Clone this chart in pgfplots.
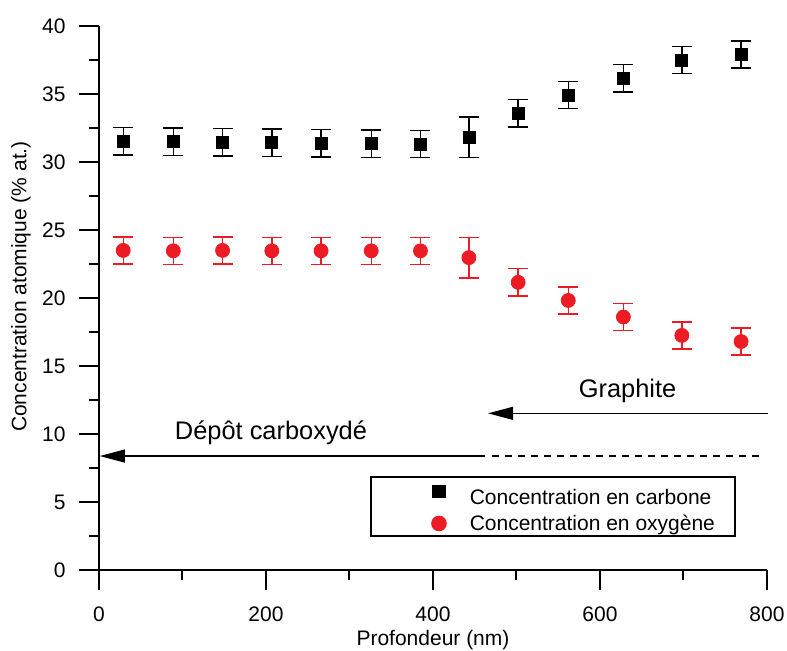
\documentclass[border=0pt]{standalone}
\usepackage{fontspec}
\setmainfont{Liberation Sans}
\usepackage{pgfplots}
\usepackage{pgfplotstable}
\pgfplotsset{compat=1.18}
\usetikzlibrary{arrows.meta}
\definecolor{ored}{RGB}{237,28,36}

\pgfplotstableread{
x y e
29 31.52 1.0
89 31.50 1.0
148 31.45 1.0
207 31.42 1.0
266 31.38 1.0
326 31.35 1.0
385 31.33 1.0
443 31.82 1.5
502 33.58 1.0
562 34.93 1.0
628 36.15 1.0
698 37.50 1.0
769 37.90 1.0
}\carbon

\pgfplotstableread{
x y e
29 23.50 1.0
89 23.47 1.0
148 23.50 1.0
207 23.47 1.0
266 23.47 1.0
326 23.47 1.0
385 23.47 1.0
443 22.97 1.5
502 21.15 1.0
562 19.82 1.0
628 18.60 1.0
698 17.25 1.0
769 16.80 1.0
}\oxygen

\begin{document}
\begin{tikzpicture}
\begin{axis}[
  scale only axis,
  width=334pt, height=272pt,
  xmin=0, xmax=800, ymin=0, ymax=40,
  axis lines*=left,
  axis line style={line width=1pt},
  xtick={0,200,...,800},
  ytick={0,5,...,40},
  minor x tick num=1,
  minor y tick num=1,
  tick align=outside,
  major tick length=10pt,
  minor tick length=5pt,
  every tick/.style={black, line width=1pt},
  tick label style={font=\fontsize{10.5}{12.6}\selectfont},
  /pgf/number format/assume math mode=true,
  xticklabel style={anchor=north, inner sep=0pt, yshift=-8pt},
  yticklabel style={anchor=east, inner sep=0pt, xshift=-6.5pt},
  xlabel={Profondeur (nm)},
  ylabel={Concentration atomique (\% at.)},
  label style={font=\fontsize{10.5}{12.6}\selectfont},
  xlabel style={at={(axis description cs:0.5,-0.129)}, anchor=center},
  ylabel style={at={(axis description cs:-0.117,0.521)}, anchor=center, rotate=0},
  clip=false,
  legend style={
    at={(axis cs:325,6.9)}, anchor=north west,
    draw=black, line width=0.8pt,
    font=\fontsize{10.5}{12.6}\selectfont,
    inner xsep=10pt, inner ysep=0pt,
    nodes={inner xsep=0pt, inner ysep=0pt, text depth=2.5pt},
    row sep=2.5pt,
  },
  legend cell align=left,
  legend image code/.code={%
    \path (0pt,0pt) (38.5pt,0pt);
    \draw[#1, only marks] plot coordinates {(23.5pt,1pt)};},
]
\addplot[black, only marks, mark=square*, mark size=3pt,
  error bars/.cd, y dir=both, y explicit,
  error bar style={line width=0.7pt, black},
  error mark options={rotate=90, mark size=5pt, line width=0.7pt, black}]
  table[x=x, y=y, y error=e] {\carbon};
\addlegendentry{\rule{0pt}{14pt}Concentration en carbone}
\addplot[ored, only marks, mark=*, mark size=3.5pt,
  error bars/.cd, y dir=both, y explicit,
  error bar style={line width=0.7pt, ored},
  error mark options={rotate=90, mark size=5pt, line width=0.7pt, ored}]
  table[x=x, y=y, y error=e] {\oxygen};
\addlegendentry{\rule{0pt}{8pt}Concentration en oxygène}

\draw[line width=0.6pt, -{Triangle[length=12.5pt, width=6.5pt]}]
  (axis cs:801,11.52) -- (axis cs:466,11.52);
\node[font=\fontsize{12.7}{15}\selectfont] at (axis cs:633,13.2) {Graphite};
\draw[line width=0.6pt, -{Triangle[length=12.5pt, width=6.5pt]}]
  (axis cs:462,8.38) -- (axis cs:1,8.38);
\draw[line width=0.6pt, dash pattern=on 3.5pt off 3pt]
  (axis cs:471,8.38) -- (axis cs:794,8.38);
\node[font=\fontsize{12.7}{15}\selectfont] at (axis cs:206,10.1) {Dépôt carboxydé};
\end{axis}
\pgfresetboundingbox
\path (-49.5pt,-40pt) rectangle (344pt,285pt);
\end{tikzpicture}
\end{document}
